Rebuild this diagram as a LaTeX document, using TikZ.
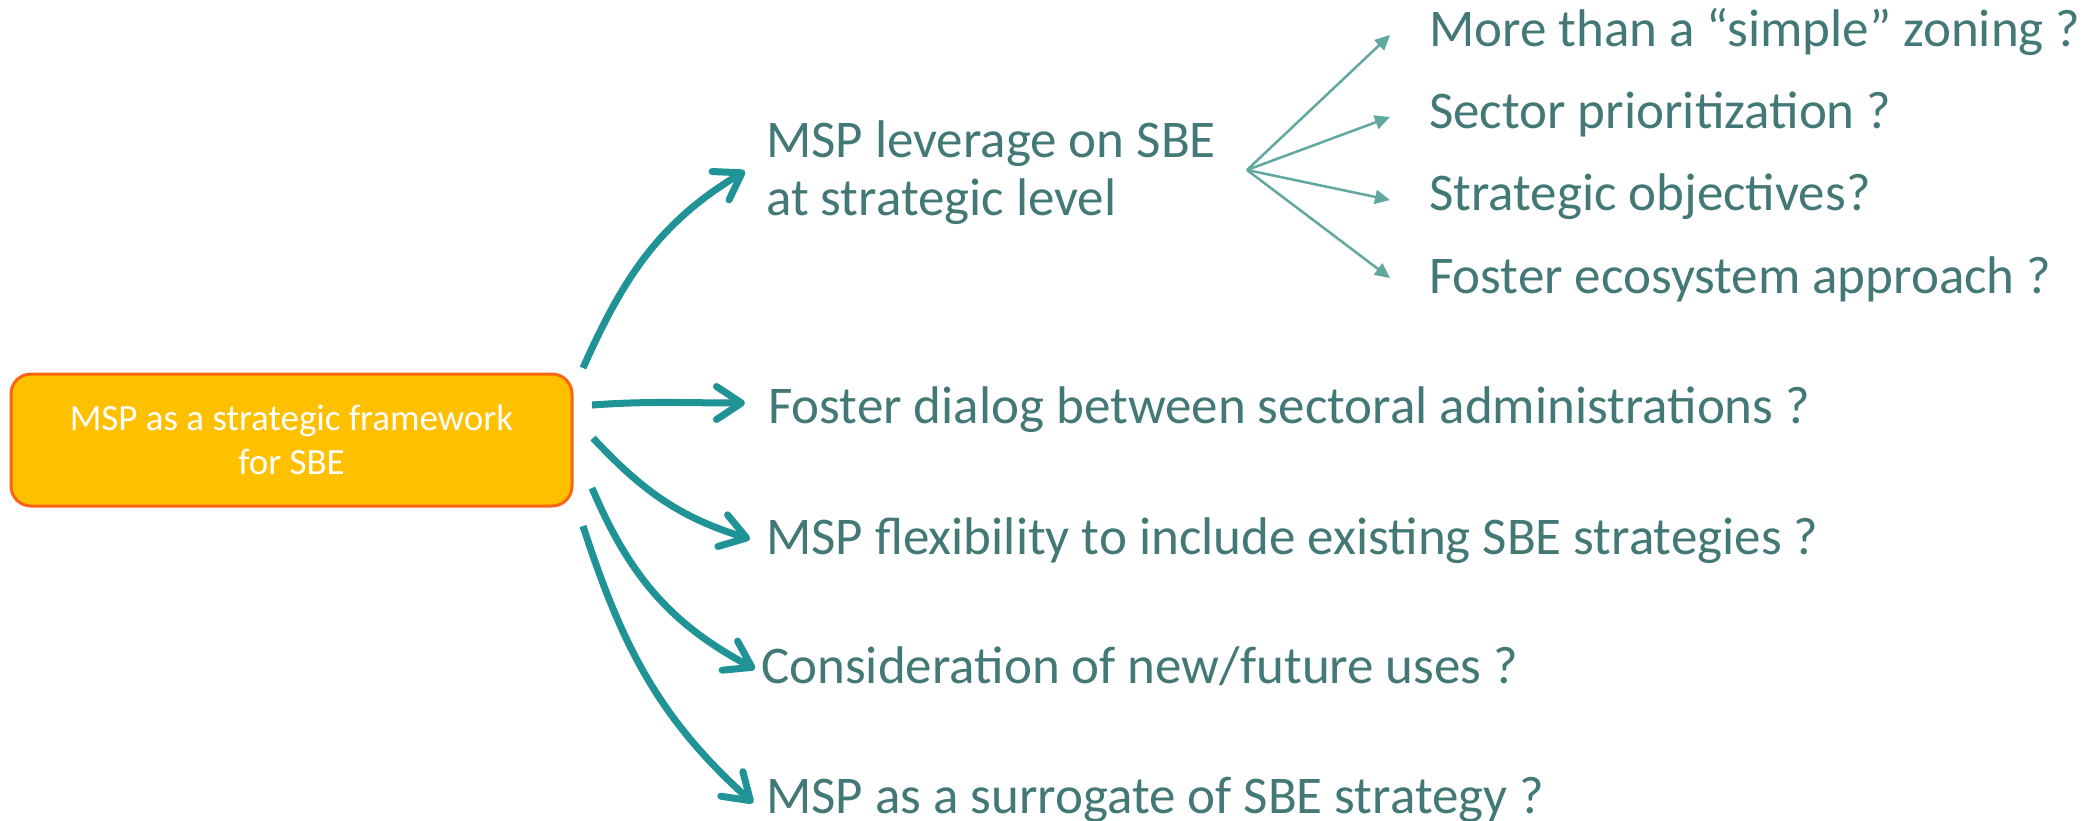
\documentclass[tikz,border=0pt]{standalone}
\usepackage{fontspec}
\setmainfont{Carlito}
\usetikzlibrary{arrows.meta}
\definecolor{thick}{RGB}{31,147,150}
\definecolor{thin}{RGB}{96,168,160}
\definecolor{txt}{RGB}{66,120,118}
\definecolor{boxfill}{RGB}{255,192,0}
\definecolor{boxdraw}{RGB}{250,100,20}
\tikzset{
  mainbox/.style={draw=boxdraw, line width=3pt, fill=boxfill, rounded corners=20pt,
    minimum width=561pt, minimum height=132pt, inner sep=0pt, text=white, align=center,
    font=\fontsize{37}{44}\selectfont},
  label/.style={anchor=base west, inner sep=0pt, text=txt, align=left,
    font=\fontsize{53}{58}\selectfont},
  bigarrow/.style={draw=thick, line width=7pt, -{Straight Barb[length=25pt,width=33pt,round]}},
  smallarrow/.style={draw=thin, line width=2.5pt, -{Triangle[length=15pt,width=14pt]}}
}
\begin{document}
\begin{tikzpicture}[x=1pt,y=1pt]
\useasboundingbox[fill=white] (0,0) rectangle (2093,-820);
\node[mainbox] (box) at (291.5,-440) {MSP as a strategic framework\\for SBE};
\node[label] (t1) at (766,-215) {MSP leverage on SBE\\at strategic level};
\node[label] (t2) at (768,-423) {Foster dialog between sectoral administrations ?};
\node[label] (t3) at (766,-554) {MSP flexibility to include existing SBE strategies ?};
\node[label] (t4) at (761,-683) {Consideration of new/future uses ?};
\node[label] (t5) at (766,-813) {MSP as a surrogate of SBE strategy ?};
\node[label] (u1) at (1429,-46) {More than a “simple” zoning ?};
\node[label] (u2) at (1429,-128) {Sector prioritization ?};
\node[label] (u3) at (1429,-210) {Strategic objectives?};
\node[label] (u4) at (1429,-293) {Foster ecosystem approach ?};
% thick arrow end points
\coordinate (s1) at (583,-368); \coordinate (e1) at (745,-171);
\coordinate (s2) at (592,-405); \coordinate (e2) at (745,-403);
\coordinate (s3) at (593,-438); \coordinate (e3) at (750,-539);
\coordinate (s4) at (592,-488); \coordinate (e4) at (755,-669);
\coordinate (s5) at (583,-526); \coordinate (e5) at (753,-803);
\draw[bigarrow] (s1) to[out=66,in=211] (e1);
\draw[bigarrow] (s2) to[out=4,in=180] (e2);
\draw[bigarrow] (s3) to[out=-47,in=163] (e3);
\draw[bigarrow] (s4) to[out=-67,in=152] (e4);
\draw[bigarrow] (s5) to[out=-72,in=138] (e5);
% fan
\coordinate (fan) at (1247,-170);
\coordinate (f1) at (1390,-35);
\coordinate (f2) at (1390,-117);
\coordinate (f3) at (1390,-200);
\coordinate (f4) at (1390,-278);
\draw[smallarrow] (fan) -- (f1);
\draw[smallarrow] (fan) -- (f2);
\draw[smallarrow] (fan) -- (f3);
\draw[smallarrow] (fan) -- (f4);
\end{tikzpicture}
\end{document}
